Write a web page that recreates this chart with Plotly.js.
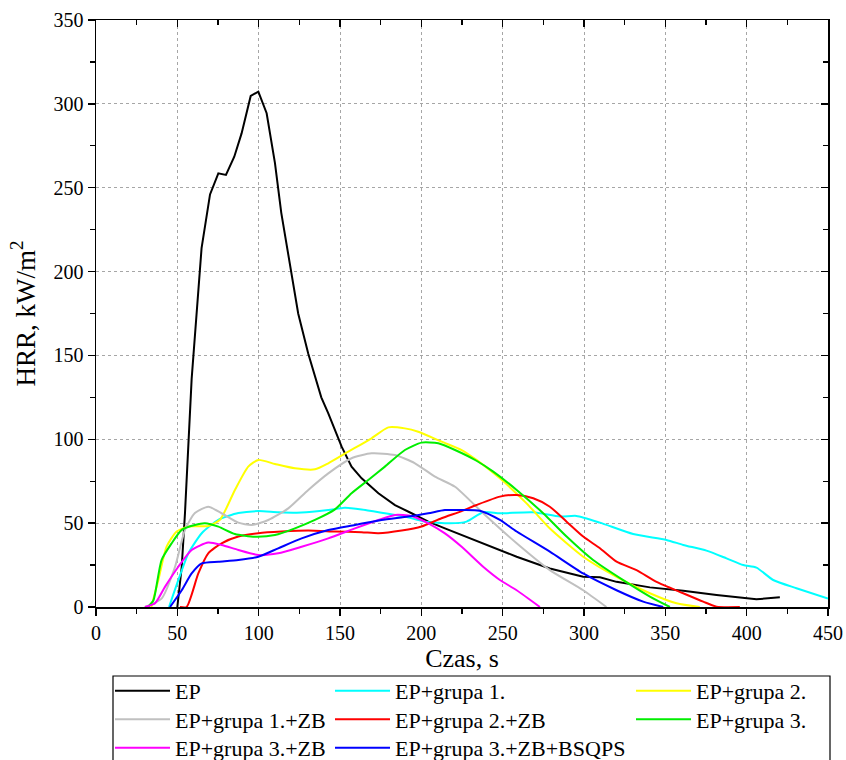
<!DOCTYPE html>
<html>
<head>
<meta charset="utf-8">
<script src="https://cdn.plot.ly/plotly-3.0.1.min.js"></script>
<style>
  html, body { margin: 0; padding: 0; background: #ffffff; }
  #chart { width: 846px; height: 760px; }
</style>
</head>
<body>
<div id="chart"></div>
<script>
// Heat release rate curves (time in s, HRR in kW/m2)
const epTime = [50, 52.7, 54.7, 56.8, 58.8, 64.9, 70.1, 75.2, 79.9, 85, 89.5, 95.1, 99.8, 104.9, 110, 113.9, 119.2, 124.3, 130.5, 134.6, 138.5, 142.8, 151, 157.1, 163.3, 173.6, 183.8, 194, 204.3, 214.5, 224.8, 238, 258.6, 279, 299.5, 309.8, 320, 340.5, 361, 381.5, 402, 406, 420.4];
const epHRR  = [0, 24, 56, 95, 136, 214, 246, 258.6, 257.6, 268.5, 282.4, 304.7, 307.3, 294.4, 264.8, 235, 203, 175, 151, 137, 125, 115.5, 95.6, 83.7, 76.7, 67.8, 60.8, 55.9, 50.9, 46.9, 42.9, 38, 30, 23, 18, 17.7, 15, 11.7, 9.7, 7.2, 5.2, 4.6, 5.8];

const g1Time = [44.9, 50.6, 56.8, 65, 75.2, 87.5, 99.8, 112, 126.4, 142.8, 153, 163.3, 177.6, 189.9, 202.2, 217.6, 227.8, 238, 248.3, 268.8, 285.2, 295.4, 309.8, 330.2, 350.7, 361, 375.3, 387.6, 397.9, 406, 416.3, 430.6, 450];
const g1HRR  = [0, 16, 32, 44, 52, 56, 57.2, 56.5, 56.3, 57.8, 59.2, 58.2, 55.9, 53.9, 50.9, 49.9, 50.9, 56.5, 55.9, 56.5, 53.9, 54.3, 50.3, 43.5, 40, 37, 33.6, 29, 25, 23.5, 16.1, 11.2, 5];

const g2Time = [34, 38.3, 43.4, 49.6, 56.8, 69, 76.2, 85.4, 93.6, 99.8, 110, 122.3, 134.6, 142.8, 155.1, 169.4, 179.7, 189.9, 198.1, 212.4, 224.8, 233.9, 248.3, 264.7, 278.9, 299.5, 320, 340.5, 356.9, 371.2];
const g2HRR  = [0, 16, 36, 45, 48, 48.3, 52, 69.8, 83.7, 87.7, 85.3, 82.7, 82.1, 85.7, 92.6, 100.6, 107.1, 106.5, 104.5, 98.6, 93.6, 87.7, 76.7, 61.8, 46.9, 30, 18, 8.2, 2.2, 0];

const g1zbTime = [30, 40.3, 48.6, 54.7, 60.8, 69, 77.2, 87.5, 95.7, 105.9, 118.2, 130.5, 142.8, 157.1, 169.4, 183.8, 196.1, 208.4, 220.7, 238, 258.6, 279, 299.5, 313.8];
const g1zbHRR  = [0, 5, 24, 46, 56, 59.8, 55.9, 50.3, 48.9, 51.9, 58.8, 69.8, 79.7, 88.7, 91.6, 90.6, 85.7, 77.7, 71.7, 55.9, 38, 22, 10, 0];

const g2zbTime = [51.6, 55.7, 62.9, 69, 77.2, 87.5, 99.8, 114.1, 130.5, 146.9, 163.3, 173.6, 187.9, 200.1, 212.4, 224.8, 233.9, 248.3, 258.6, 268.8, 279, 289.3, 299.5, 309.8, 320, 332.3, 344.6, 361, 373.3, 381.5, 395.8];
const g2zbHRR  = [0, 0, 20, 32, 38, 42, 44, 45, 45.6, 45, 44.6, 44, 45.6, 48, 52.9, 57.2, 60.8, 65.8, 66.8, 64.8, 59.8, 50.9, 42, 35, 27, 22, 15, 8.2, 3.2, 0.2, 0];

const g3Time = [32, 35.3, 40.3, 46.5, 52.7, 60.8, 67, 75.2, 85.4, 97.7, 110, 122.3, 134.6, 146.9, 157.1, 167.4, 177.6, 189.9, 200.1, 210.4, 220.7, 233.9, 244.2, 258.6, 274.9, 289.3, 305.6, 324.1, 340.5, 352.8];
const g3HRR  = [0, 4, 28, 38, 46, 48.9, 49.9, 47.9, 43.5, 41.9, 42.9, 46.9, 51.9, 58.2, 67.8, 75.7, 83.7, 93.6, 98, 97.6, 93.6, 87.2, 80.7, 69.8, 55.9, 42, 28, 16, 6.2, 0];

const g3zbTime = [30.1, 36.3, 42.4, 50.6, 58.8, 69, 77.2, 87.5, 99.8, 112, 126.4, 142.8, 159.2, 173.6, 183.8, 194, 204.3, 214.5, 224.8, 238, 248.3, 258.6, 272.9];
const g3zbHRR  = [0, 2.2, 12, 24, 34, 38.4, 37, 34, 31, 32, 35.9, 40.9, 46.9, 51.9, 54.9, 54.3, 49.9, 43.9, 35.9, 24, 16.1, 10, 0];

const bsqpsTime = [45.5, 52.7, 58.8, 65, 75.2, 87.5, 99.8, 112, 126.4, 142.8, 159.2, 175.5, 191.9, 204.3, 214.5, 224.8, 236, 248.3, 258.6, 279, 299.5, 320, 336.4, 348.7];
const bsqpsHRR  = [0, 10, 20, 26, 27, 28, 30, 35, 40.9, 45.9, 48.9, 51.9, 53.9, 55.9, 57.8, 57.8, 57.4, 51.9, 45, 33, 20, 10, 3.2, 0];

const seriesNames = ['EP', 'EP+grupa 1.', 'EP+grupa 2.', 'EP+grupa 1.+ZB', 'EP+grupa 2.+ZB', 'EP+grupa 3.', 'EP+grupa 3.+ZB', 'EP+grupa 3.+ZB+BSQPS'];

const FONT = '"Liberation Serif", "Times New Roman", Times, serif';

// pixel -> paper conversion helpers for the legend block below the plot
const PLOT_L = 96, PLOT_R = 828, PLOT_T = 20, PLOT_B = 607;
const px2x = p => (p - PLOT_L) / (PLOT_R - PLOT_L);
const px2y = p => (PLOT_B - p) / (PLOT_B - PLOT_T);

// legend grid: three columns, three rows (one legend per entry)
const colX = [110, 330, 631];
const rowY = [691, 719.5, 748];
const entrySlot = [[0, 0], [1, 0], [2, 0], [0, 1], [1, 1], [2, 1], [0, 2], [1, 2]];

function curve(i, x, y, color, smooth) {
  return {
    x: x, y: y, name: seriesNames[i], type: 'scatter', mode: 'lines',
    line: { color: color, width: 2, shape: smooth ? 'spline' : 'linear', smoothing: 0.6 },
    legend: i === 0 ? 'legend' : 'legend' + (i + 1)
  };
}

const traces = [
  curve(0, epTime, epHRR, '#000000', false),
  curve(1, g1Time, g1HRR, '#00FFFF', true),
  curve(2, g2Time, g2HRR, '#FFFF00', true),
  curve(3, g1zbTime, g1zbHRR, '#C0C0C0', true),
  curve(4, g2zbTime, g2zbHRR, '#FF0000', true),
  curve(5, g3Time, g3HRR, '#00EE00', true),
  curve(6, g3zbTime, g3zbHRR, '#FF00FF', true),
  curve(7, bsqpsTime, bsqpsHRR, '#0000FF', true),
  // carrier for the mirrored top/right tick axes
  { x: [], y: [], xaxis: 'x2', yaxis: 'y2', type: 'scatter', mode: 'lines', showlegend: false, hoverinfo: 'skip' }
];

const axisCommon = {
  showline: true, linecolor: '#000', linewidth: 1.5,
  zeroline: false,
  tickcolor: '#000', tickwidth: 1.3,
  tickfont: { family: FONT, size: 20, color: '#000' }
};

const layout = {
  width: 846, height: 760,
  margin: { l: PLOT_L, r: 846 - PLOT_R, t: PLOT_T, b: 760 - PLOT_B, autoexpand: false },
  paper_bgcolor: '#ffffff', plot_bgcolor: '#ffffff',
  font: { family: FONT, color: '#000' },
  xaxis: Object.assign({}, axisCommon, {
    range: [0, 450], dtick: 50, tick0: 0,
    ticks: 'outside', ticklen: 7, mirror: true,
    minor: { dtick: 25, ticks: 'outside', ticklen: 5, tickcolor: '#000', showgrid: false },
    showgrid: true, gridcolor: '#a6a6a6', griddash: 'dot', gridwidth: 1,
    title: { text: 'Czas, s', font: { family: FONT, size: 26, color: '#000' }, standoff: 6 }
  }),
  yaxis: Object.assign({}, axisCommon, {
    range: [0, 350], dtick: 50, tick0: 0,
    ticks: 'outside', ticklen: 7, mirror: true,
    minor: { dtick: 25, ticks: 'outside', ticklen: 5, tickcolor: '#000', showgrid: false },
    showgrid: true, gridcolor: '#a6a6a6', griddash: 'dot', gridwidth: 1,
    title: { text: 'HRR, kW/m<sup>2</sup>', font: { family: FONT, size: 27, color: '#000' }, standoff: 10 }
  }),
  xaxis2: {
    overlaying: 'x', side: 'top', anchor: 'y2', range: [0, 450], dtick: 50, tick0: 0,
    ticks: 'inside', ticklen: 7, tickwidth: 1.3, tickcolor: '#000',
    minor: { dtick: 25, ticks: 'inside', ticklen: 5, tickcolor: '#000', showgrid: false },
    showticklabels: false, showgrid: false, zeroline: false, showline: false
  },
  yaxis2: {
    overlaying: 'y', side: 'right', anchor: 'x2', range: [0, 350], dtick: 50, tick0: 0,
    ticks: 'inside', ticklen: 7, tickwidth: 1.3, tickcolor: '#000',
    minor: { dtick: 25, ticks: 'inside', ticklen: 5, tickcolor: '#000', showgrid: false },
    showticklabels: false, showgrid: false, zeroline: false, showline: false
  },
  shapes: [{
    type: 'rect', xref: 'paper', yref: 'paper',
    x0: px2x(113), x1: px2x(830), y0: px2y(676), y1: px2y(790),
    line: { color: '#000', width: 1.2 }, fillcolor: 'rgba(0,0,0,0)', layer: 'below'
  }],
  showlegend: true
};

entrySlot.forEach(([c, r], i) => {
  const key = i === 0 ? 'legend' : 'legend' + (i + 1);
  layout[key] = {
    orientation: 'v', xanchor: 'left', yanchor: 'middle',
    x: px2x(colX[c]), y: px2y(rowY[r]),
    bgcolor: 'rgba(0,0,0,0)', borderwidth: 0,
    font: { family: FONT, size: 22, color: '#000' },
    itemwidth: 55
  };
});

Plotly.newPlot('chart', traces, layout, { displayModeBar: false, staticPlot: true });
</script>
</body>
</html>
